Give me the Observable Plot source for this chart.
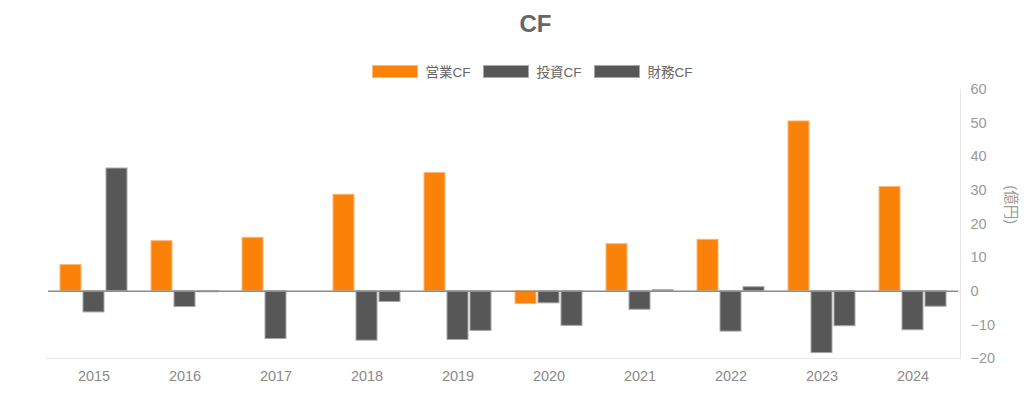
<!DOCTYPE html>
<html><head><meta charset="utf-8">
<script src="https://cdn.jsdelivr.net/npm/d3@7"></script>
<script src="https://cdn.jsdelivr.net/npm/@observablehq/plot@0.6"></script>
<style>
body{margin:0;background:#fff;font-family:"Liberation Sans","Noto Sans CJK JP",sans-serif;}
#wrap{width:1024px;position:relative;}
#title{height:48px;line-height:48px;text-align:center;font-weight:bold;font-size:24px;color:#666;padding-left:47px;box-sizing:border-box;}
#legend{height:32px;padding-top:14px;box-sizing:border-box;display:flex;justify-content:center;align-items:center;padding-left:40px;}
.item{display:flex;align-items:center;margin:0 6px;font-size:13.5px;color:#666;}
.box{width:46px;height:13px;margin-right:8px;box-sizing:border-box;}
#chart svg{display:block;}
#border{position:absolute;pointer-events:none;border-right:1px solid #e6e6e6;border-bottom:1px solid #e6e6e6;box-sizing:border-box;}
</style></head>
<body>
<div id="wrap">
<div id="title">CF</div>
<div id="legend"></div>
<div id="chart"></div>
<div id="border"></div>
</div>
<script>
const years = ["2015","2016","2017","2018","2019","2020","2021","2022","2023","2024"];
const series = ["営業CF","投資CF","財務CF"];
const operating = [7.8, 14.9, 15.9, 28.7, 35.2, -3.8, 14.0, 15.3, 50.5, 31.0];
const investing = [-6.3, -4.7, -14.2, -14.7, -14.5, -3.6, -5.5, -12.0, -18.4, -11.6];
const financing = [36.5, -0.3, 0, -3.2, -11.8, -10.3, 0.3, 1.2, -10.4, -4.6];
const colors = ["#fa8208", "#575757", "#575757"];
const edges = ["#fcb77a", "#a8a8a8", "#a8a8a8"];
const yTicks = [-20,-10,0,10,20,30,40,50,60];
const yLabel = "(億円)";

const data = [];
[operating, investing, financing].forEach((arr, s) => {
  arr.forEach((v, i) => data.push({year: years[i], series: series[s], value: v}));
});

// legend
const lg = document.getElementById("legend");
series.forEach((s, i) => {
  const it = document.createElement("div"); it.className = "item";
  const b = document.createElement("div"); b.className = "box";
  b.style.background = colors[i]; b.style.border = "1px solid " + edges[i];
  const t = document.createElement("span"); t.textContent = s;
  it.appendChild(b); it.appendChild(t); lg.appendChild(it);
});

const W = 1024, H = 313, mL = 46, mR = 64, mT = 9, mB = 35;

const chart = Plot.plot({
  width: W, height: H,
  marginLeft: mL, marginRight: mR, marginTop: mT, marginBottom: mB,
  style: {fontFamily: '"Liberation Sans","Noto Sans CJK JP",sans-serif', background: "#fff"},
  fx: {domain: years, paddingInner: 0, paddingOuter: 0, label: null},
  x: {domain: series, paddingInner: 0.1, paddingOuter: 0.4725, axis: null},
  y: {domain: [-20, 60], ticks: yTicks},
  color: {domain: series, range: colors},
  marks: [
    Plot.axisFx({anchor: "bottom", tickSize: 0, tickPadding: 12, fontSize: 14.5, color: "#8a8a8a", label: null}),
    Plot.axisY({anchor: "right", ticks: yTicks, tickSize: 0, tickPadding: 12, fontSize: 14.5, color: "#9a9a9a", label: null}),
    Plot.barY(data, {fx: "year", x: "series", y: "value", fill: "series",
      stroke: d => edges[series.indexOf(d.series)], strokeWidth: 1}),
    Plot.ruleY([0], {stroke: "#8c8c8c", strokeWidth: 1.5}),
    Plot.text([yLabel], {fx: [years[years.length - 1]], text: d => d, frameAnchor: "right", rotate: 90,
      dx: 52, fontSize: 14.5, fill: "#9a9a9a"})
  ]
});
document.getElementById("chart").appendChild(chart);

const bd = document.getElementById("border");
const top0 = document.getElementById("chart").offsetTop;
bd.style.left = mL + "px";
bd.style.top = (top0 + mT) + "px";
bd.style.width = (W - mL - mR + 1) + "px";
bd.style.height = (H - mT - mB + 1) + "px";
</script>
</body></html>
